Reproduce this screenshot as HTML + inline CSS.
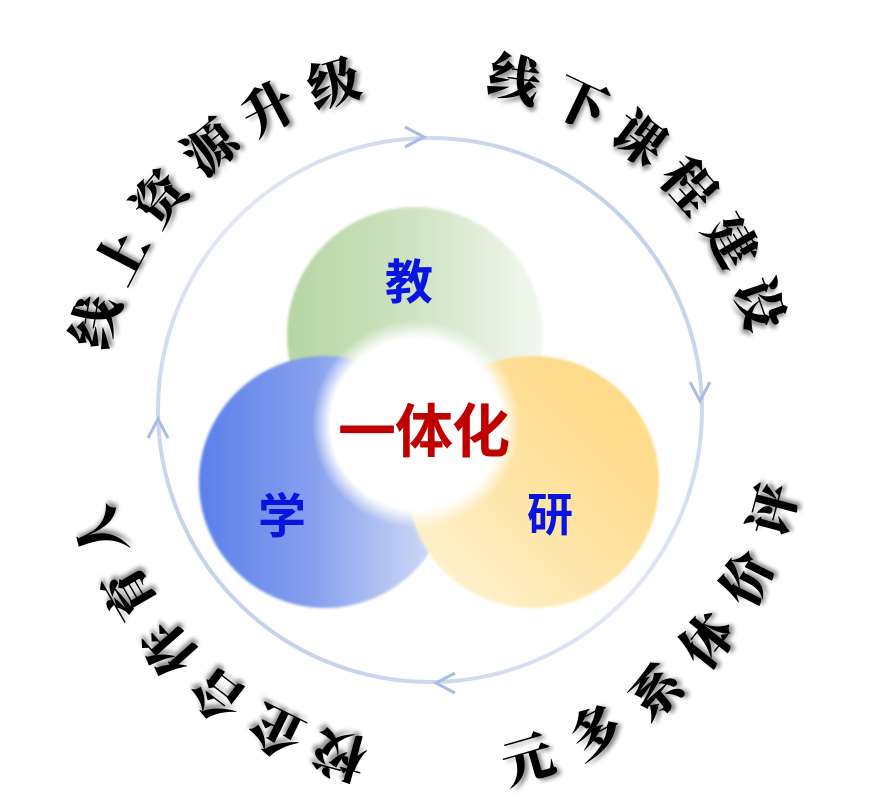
<!DOCTYPE html>
<html><head><meta charset="utf-8"><style>
html,body{margin:0;padding:0;background:#fff;}
#w{position:relative;width:885px;height:803px;overflow:hidden;font-family:"Liberation Sans","Noto Sans CJK SC",sans-serif;}
.c{position:absolute;width:60px;height:60px;line-height:60px;text-align:center;font-family:"Noto Serif CJK SC","WenQuanYi Zen Hei",serif;font-weight:900;font-size:52px;color:#000;text-shadow:3px 3px 4px rgba(0,0,0,.45);}
.l{position:absolute;font-family:"Liberation Sans","Noto Sans CJK SC",sans-serif;font-weight:bold;line-height:1;}
</style></head><body><div id="w">
<svg width="885" height="803" style="position:absolute;left:0;top:0">
<defs>
<linearGradient id="gg" x1="0" y1="0" x2="1" y2="0"><stop offset="0" stop-color="#b5d6a3"/><stop offset="0.5" stop-color="#cfe3c3"/><stop offset="1" stop-color="#f4f9f1"/></linearGradient>
<linearGradient id="bg" x1="0" y1="0" x2="1" y2="0"><stop offset="0" stop-color="#5b80ea"/><stop offset="0.45" stop-color="#86a0ee"/><stop offset="1" stop-color="#dbe3f7"/></linearGradient>
<linearGradient id="yg" x1="1" y1="0" x2="0" y2="1"><stop offset="0" stop-color="#fdd67a"/><stop offset="0.5" stop-color="#fee3a2"/><stop offset="1" stop-color="#fff6dd"/></linearGradient>
<linearGradient id="rg" x1="0" y1="1" x2="1" y2="0"><stop offset="0" stop-color="#b8c8e6"/><stop offset="0.5" stop-color="#e3e9f5"/><stop offset="1" stop-color="#b8c8e6"/></linearGradient>
<radialGradient id="wg"><stop offset="0.82" stop-color="#fff" stop-opacity="1"/><stop offset="1" stop-color="#fff" stop-opacity="0"/></radialGradient>
<filter id="bl"><feGaussianBlur stdDeviation="1.2"/></filter>
</defs>
<circle cx="430" cy="410" r="272" fill="none" stroke="url(#rg)" stroke-width="4"/>
<g fill="none" stroke="#a9bde0" stroke-width="3">
<path d="M405 127 L424 137 L405 147"/>
<path d="M690 382 L700 401 L710 382"/>
<path d="M455 673 L436 683 L455 693"/>
<path d="M148 438 L158 419 L168 438"/>
</g>
<circle cx="415" cy="335" r="128" fill="url(#gg)" filter="url(#bl)"/>
<circle cx="325" cy="482" r="126" fill="url(#bg)" filter="url(#bl)"/>
<circle cx="533" cy="482" r="126" fill="url(#yg)" filter="url(#bl)"/>
<circle cx="416" cy="424" r="104" fill="url(#wg)"/>
</svg>
<div class="l" style="left:338px;top:404px;font-size:58px;color:#c00000;letter-spacing:-1px;">一体化</div>
<div class="l" style="left:385px;top:260px;font-size:48px;color:#0a14e0;">教</div>
<div class="l" style="left:258px;top:494px;font-size:48px;color:#0a14e0;">学</div>
<div class="l" style="left:527px;top:492px;font-size:46px;color:#0a14e0;">研</div>
<div id="t"></div>
</div>
<script>
var cx=430,cy=418,R=352;
function arc(s,a0,a1,flip){var n=s.length,h='';for(var i=0;i<n;i++){var th=a0+(a1-a0)*i/(n-1);var r=th*Math.PI/180;var x=cx+R*Math.sin(r),y=cy-R*Math.cos(r);var rot=flip?th-180:th;h+='<div class="c" style="left:'+(x-30)+'px;top:'+(y-30)+'px;transform:rotate('+rot+'deg)">'+s[i]+'</div>';}return h;}
var h='';
h+=arc('线上资源升级',-74,-16,false);
h+=arc('线下课程建设',14,71,false);
h+=arc('评价体系多元',105,164,true);
h+=arc('校企合作育人',195,251,false);
document.getElementById('t').innerHTML=h;
</script>
</body></html>
